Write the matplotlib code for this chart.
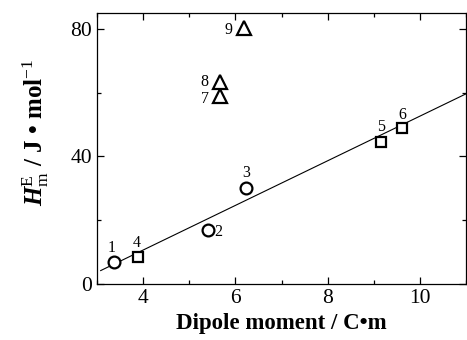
import matplotlib.pyplot as plt
import numpy as np

plt.rcParams["font.family"] = ["Liberation Serif", "DejaVu Serif"]
plt.rcParams["mathtext.fontset"] = "custom"
plt.rcParams["mathtext.rm"] = "Liberation Serif"
plt.rcParams["mathtext.it"] = "Liberation Serif:italic"
plt.rcParams["mathtext.bf"] = "Liberation Serif:bold"
plt.rcParams["mathtext.bfit"] = "Liberation Serif:bold:italic"

# excess enthalpy vs. dipole moment, numbered systems
labels = ["1", "2", "3", "4", "5", "6", "7", "8", "9"]
dipole = [3.37, 5.41, 6.23, 3.88, 9.15, 9.62, 5.66, 5.66, 6.18]
h_excess = [6.9, 16.9, 30.2, 8.4, 44.5, 48.9, 59.0, 63.2, 80.4]
groups = ["o", "o", "o", "s", "s", "s", "^", "^", "^"]

# label offsets (pixels) from each marker
offsets = {"1": (-2, 14), "2": (10, -2), "3": (0, 15), "4": (-1, 14),
           "5": (0, 15), "6": (0, 13), "7": (-15, -3), "8": (-15, 0),
           "9": (-15, -2)}

# linear fit drawn across the plot
fit_slope, fit_intercept = 7.0, -17.35
fit_x = np.array([3.08, 11.0])

fig = plt.figure(figsize=(4.67, 3.4), dpi=100)
ax = fig.add_axes([0.2077, 0.1647, 0.7903, 0.7971])

ax.plot(fit_x, fit_slope * fit_x + fit_intercept, color="black", lw=0.8)

sizes = {"o": 8.5, "s": 7.5, "^": 10.0}
for x, y, m, lab in zip(dipole, h_excess, groups, labels):
    ax.plot(x, y, marker=m, ms=sizes[m], mfc="white", mec="black",
            mew=1.6, ls="none", zorder=3)
    dx, dy = offsets[lab]
    ax.annotate(lab, (x, y), xytext=(dx, dy), textcoords="offset pixels",
                ha="center", va="center", fontsize=11.5)

ax.set_xlim(3, 11)
ax.set_ylim(0, 85)
ax.set_xticks([4, 6, 8, 10])
ax.set_xticks([3, 5, 7, 9, 11], minor=True)
ax.set_yticks([0, 40, 80])
ax.set_yticks([20, 60], minor=True)
ax.tick_params(which="both", direction="in", top=True, right=True,
               labelsize=15.5, width=0.9)
ax.tick_params(which="major", length=5)
ax.tick_params(which="minor", length=3)
for s in ax.spines.values():
    s.set_linewidth(0.9)

ax.set_xlabel("Dipole moment / C\u2022m", fontsize=16.5, fontweight="bold",
              labelpad=4)
ax.set_ylabel(r"$\mathbfit{H}_{\mathrm{m}}^{\mathrm{E}}$ / J " + "\u2022"
              + r" mol$^{\mathrm{-1}}$",
              fontsize=18, fontweight="bold")
ax.yaxis.set_label_coords(-0.125, 0.56)

fig.savefig("out.png", dpi=100)
